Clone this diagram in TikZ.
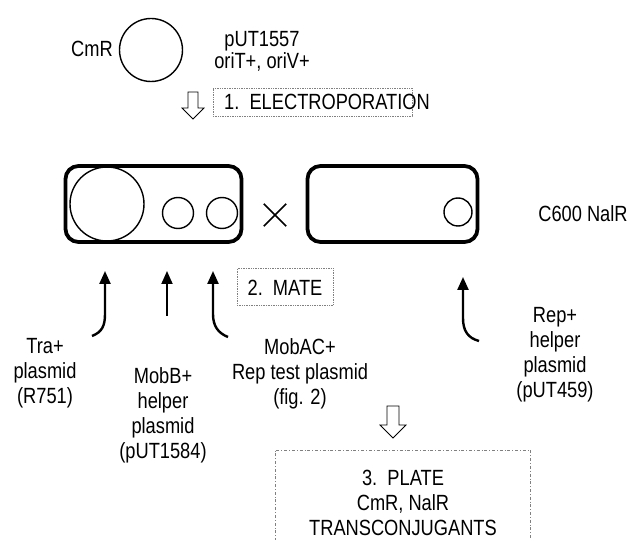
\documentclass[tikz,border=0pt]{standalone}
\usepackage{fontspec}
\setmainfont{Liberation Sans}[FakeStretch=0.83]
\usetikzlibrary{arrows.meta}
\begin{document}
\begin{tikzpicture}[x=1pt,y=-1pt,
  lbl/.style={font=\fontsize{22}{25}\selectfont, align=center, inner sep=0pt},
  cell/.style={draw, line width=3.8pt, rounded corners=13pt},
  plasmid/.style={draw, circle, line width=1.4pt, inner sep=0pt},
  stepbox/.style={draw=gray, densely dotted, line width=0.7pt},
  bigarrow/.style={draw, line width=0.8pt, fill=white},
  helper/.style={line width=2.4pt, -{Triangle[length=13pt,width=11pt]}}]
\useasboundingbox (0,0) rectangle (633,540);

% top plasmid
\node[lbl] (cmr) at (92,49) {CmR};
\node[plasmid, minimum size=63pt] (top) at (151,50) {};
\node[lbl, font=\fontsize{22}{22}\selectfont] (put) at (262,51) {pUT1557\\oriT+, oriV+};

% step 1
\draw[bigarrow] (188,92) -- (198,92) -- (198,108) -- (204,108) -- (193,119) -- (182,108) -- (188,108) -- cycle;
\node[stepbox, minimum width=199pt, minimum height=28pt] (s1) at (312.5,102) {};
\node[lbl, anchor=west] (s1t) at (224,102) {1.\ \ ELECTROPORATION};

% cells
\node[cell, minimum width=176pt, minimum height=76pt] (donor) at (153.5,204) {};
\node[cell, minimum width=170pt, minimum height=76pt] (recip) at (392.5,204) {};
\node[plasmid, minimum size=74pt] (big) at (107,204) {};
\node[plasmid, minimum size=31pt] (mobb) at (178,213) {};
\node[plasmid, minimum size=31pt] (mobac) at (222,213) {};
\node[plasmid, minimum size=28pt] (rep) at (458,212) {};
\node[inner sep=0pt, minimum size=22pt] (cross) at (275,215) {};
\draw[line width=1.6pt] (cross.north west) -- (cross.south east) (cross.north east) -- (cross.south west);
\node[lbl] (c600) at (583,214) {C600 NalR};

% step 2
\node[stepbox, minimum width=96pt, minimum height=37pt] (s2) at (285,287) {};
\node[lbl] (s2t) at (285,288) {2.\ \ MATE};

% helper arrows
\coordinate (traS) at (92,336);
\coordinate (traT) at (105,271);
\coordinate (mbS) at (167,316);
\coordinate (mbT) at (167,271);
\coordinate (maS) at (228,337);
\coordinate (maT) at (213,271);
\coordinate (rpS) at (479,341);
\coordinate (rpT) at (463,277);
\draw[helper] (traS) .. controls (102,332) and (105,326) .. (105,314) -- (traT);
\draw[helper, line width=1.8pt] (mbS) -- (mbT);
\draw[helper] (maS) .. controls (218,333) and (213,326) .. (213,314) -- (maT);
\draw[helper] (rpS) .. controls (468,338) and (463,331) .. (463,318) -- (rpT);

\node[lbl] (tra) at (45,373) {Tra+\\plasmid\\(R751)};
\node[lbl] (mobbt) at (163,415) {MobB+\\helper\\plasmid\\(pUT1584)};
\node[lbl] (mobact) at (300,374) {MobAC+\\Rep test plasmid\\(fig. 2)};
\node[lbl] (rept) at (555,355) {Rep+\\helper\\plasmid\\(pUT459)};

% step 3
\draw[bigarrow] (387,406) -- (399,406) -- (399,425) -- (406,425) -- (393,438) -- (380,425) -- (387,425) -- cycle;
\draw[stepbox, dash dot] (275,541) -- (275,450) -- (530,450) -- (530,541);
\node[lbl] (s3t) at (403,503) {3.\ \ PLATE\\CmR, NalR\\TRANSCONJUGANTS};
\end{tikzpicture}
\end{document}
